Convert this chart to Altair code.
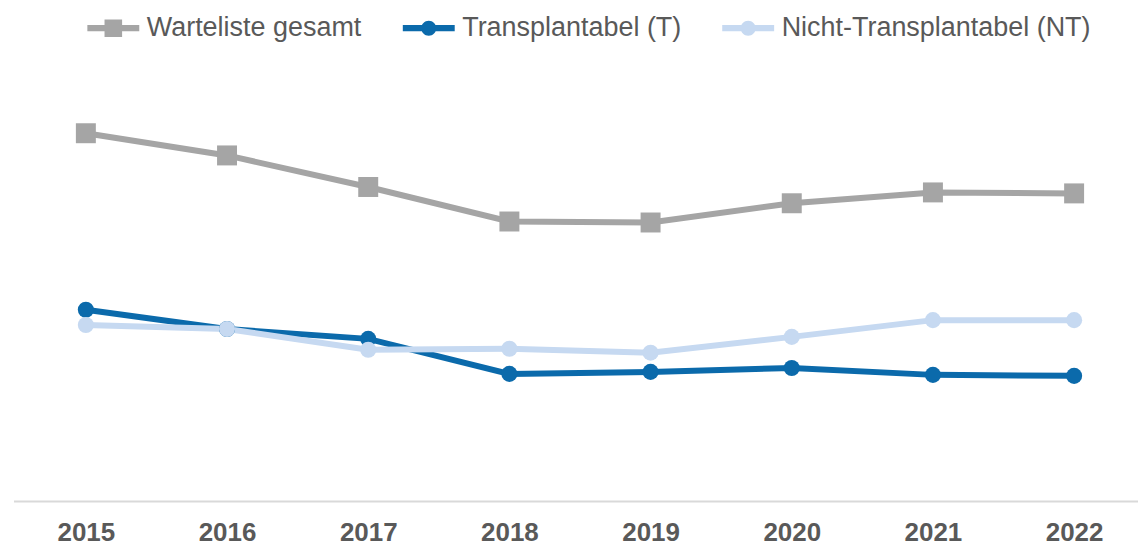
import altair as alt
import pandas as pd

years = ["2015", "2016", "2017", "2018", "2019", "2020", "2021", "2022"]
series_names = ["Warteliste gesamt", "Transplantabel (T)", "Nicht-Transplantabel (NT)"]
warteliste = [747, 702, 638, 568, 566, 605, 627, 625]
transplantabel = [389, 350, 330, 259, 263, 271, 257, 255]
nicht_transplantabel = [358, 350, 308, 310, 302, 334, 368, 368]
colors = ["#a5a5a5", "#0b6aab", "#c6d9f1"]

rows = []
for s_idx, (name, vals) in enumerate(zip(series_names, [warteliste, transplantabel, nicht_transplantabel])):
    for y, v in zip(years, vals):
        rows.append({"Jahr": y, "Serie": name, "Wert": v, "ord": s_idx})
df = pd.DataFrame(rows)

# legend glyphs: line segment with marker (path units scaled by sqrt(symbolSize)/2 = 10px)
sq_path = "M-2.6,-0.31H2.6V0.31H-2.6Z M-0.88,-0.88H0.88V0.88H-0.88Z"
ci_path = "M-2.6,-0.31H2.6V0.31H-2.6Z M-0.75,0A0.75,0.75 0 1,1 0.75,0A0.75,0.75 0 1,1 -0.75,0Z"
legend_shapes = [sq_path, ci_path, ci_path]

legend = alt.Legend(
    title=None,
    orient="none",
    legendX=86,
    legendY=6,
    direction="horizontal",
    columns=3,
    columnPadding=40,
    labelOffset=20,
    symbolSize=400,
    symbolStrokeWidth=0,
    symbolOpacity=1,
    labelFontSize=27,
    labelFont="Liberation Sans",
    labelColor="#595959",
    labelLimit=500,
    padding=0,
)

x_enc = alt.X(
    "Jahr:O",
    scale=alt.Scale(type="point", domain=years, range=[72, 1062], padding=0),
    axis=alt.Axis(
        title=None, domain=False, ticks=False, grid=False, labelAngle=0,
        labelFont="Liberation Sans", labelFontSize=26, labelFontWeight="bold",
        labelColor="#595959", labelPadding=18,
    ),
)
y_enc = alt.Y("Wert:Q", scale=alt.Scale(domain=[0, 1000], nice=False, zero=True), axis=None)
color_scale = alt.Scale(domain=series_names, range=colors)

base = alt.Chart(df)

legend_layer = base.mark_point(filled=True, size=0).encode(
    x=x_enc, y=y_enc,
    color=alt.Color("Serie:N", scale=color_scale, legend=legend),
    shape=alt.Shape("Serie:N", scale=alt.Scale(domain=series_names, range=legend_shapes), legend=legend),
)

lines = base.mark_line(strokeWidth=6).encode(
    x=x_enc, y=y_enc,
    color=alt.Color("Serie:N", scale=color_scale, legend=None),
    detail="Serie:N", order="Jahr:O",
)
squares = base.transform_filter(alt.datum.Serie == series_names[0]).mark_point(
    filled=True, opacity=1, strokeWidth=0, shape="square", size=400
).encode(x=x_enc, y=y_enc, color=alt.Color("Serie:N", scale=color_scale, legend=None))
circles = base.transform_filter(alt.datum.Serie != series_names[0]).mark_point(
    filled=True, opacity=1, strokeWidth=0, shape="circle", size=260
).encode(x=x_enc, y=y_enc, color=alt.Color("Serie:N", scale=color_scale, legend=None), order="ord:Q")

baseline = alt.Chart(pd.DataFrame({"a": [0]})).mark_rule(color="#d9d9d9", strokeWidth=2).encode(
    x=alt.value(0), x2=alt.value(1126), y=alt.value(494)
)

chart = alt.layer(legend_layer, baseline, lines, squares, circles).properties(
    width=1126, height=494, background="white",
    padding={"left": 5, "top": 0, "right": 0, "bottom": 0},
).configure_view(stroke=None)

chart.save("out.html", embed_options={"renderer": "svg", "actions": False})
